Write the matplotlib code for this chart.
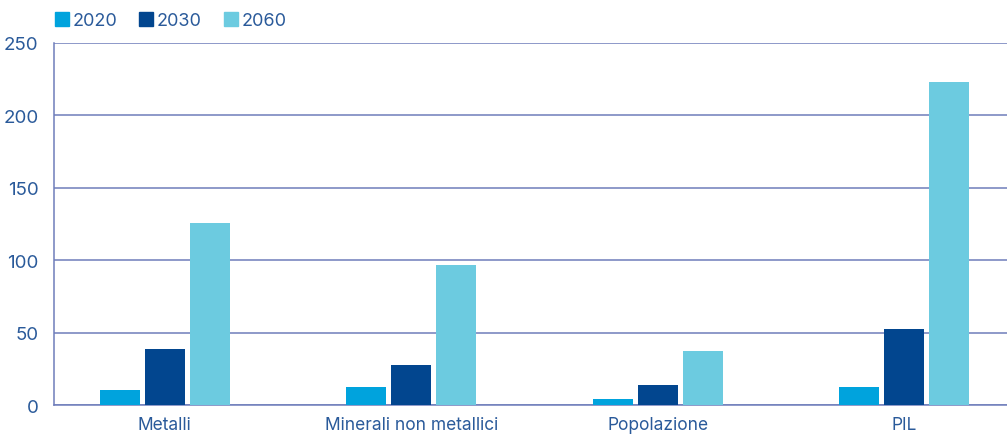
import matplotlib

matplotlib.use("Agg")
import matplotlib.pyplot as plt
import numpy as np
from matplotlib.patches import Patch

# ─── Data ─────────────────────────────────────────────────────────────
categories = ["Metalli", "Minerali non metallici", "Popolazione", "PIL"]
years = ["2020", "2030", "2060"]
vals_2020 = [10.6, 12.5, 4.3, 12.5]
vals_2030 = [38.9, 27.7, 14.0, 52.5]
vals_2060 = [125.8, 96.8, 37.5, 223.1]

colors = ["#00a3dd", "#02468f", "#6ccbe0"]
grid_c = "#6f7dbb"
text_c = "#2a5a9a"

plt.rcParams["font.family"] = ["Inter", "DejaVu Sans"]

fig = plt.figure(figsize=(10.07, 4.35), dpi=100)
ax = fig.add_axes([54 / 1007, 1 - 406.3 / 435, (1007 - 54) / 1007, 362.3 / 435])

x = np.arange(len(categories))
width = 0.162
step = 0.1826
for i, (vals, c) in enumerate(zip([vals_2020, vals_2030, vals_2060], colors)):
    ax.bar(x + (i - 1) * step, vals, width=width, color=c, zorder=3)

ax.set_xlim(-0.45, 3.418)
ax.set_ylim(0, 250)
ax.set_yticks(range(0, 251, 50))
ax.set_xticks(x)
ax.set_xticklabels(categories)
ax.grid(axis="y", color=grid_c, linewidth=1.1, zorder=0)
ax.set_axisbelow(True)
for side in ["top", "right"]:
    ax.spines[side].set_visible(False)
ax.spines["left"].set_color(grid_c)
ax.spines["bottom"].set_color(grid_c)
ax.spines["left"].set_linewidth(1.1)
ax.spines["bottom"].set_linewidth(1.1)
ax.tick_params(axis="both", length=0, labelcolor=text_c)
ax.tick_params(axis="y", pad=11, labelsize=13.5)
ax.tick_params(axis="x", pad=8, labelsize=12.5)

handles = [Patch(color=c, label=y) for c, y in zip(colors, years)]
fig.legend(handles=handles, loc="upper left", bbox_to_anchor=(0.038, 1.008),
           ncol=3, frameon=False, fontsize=13, handlelength=0.8,
           handleheight=0.8, handletextpad=0.2, columnspacing=1.2,
           labelcolor=text_c)

fig.savefig("out.png", dpi=100)
